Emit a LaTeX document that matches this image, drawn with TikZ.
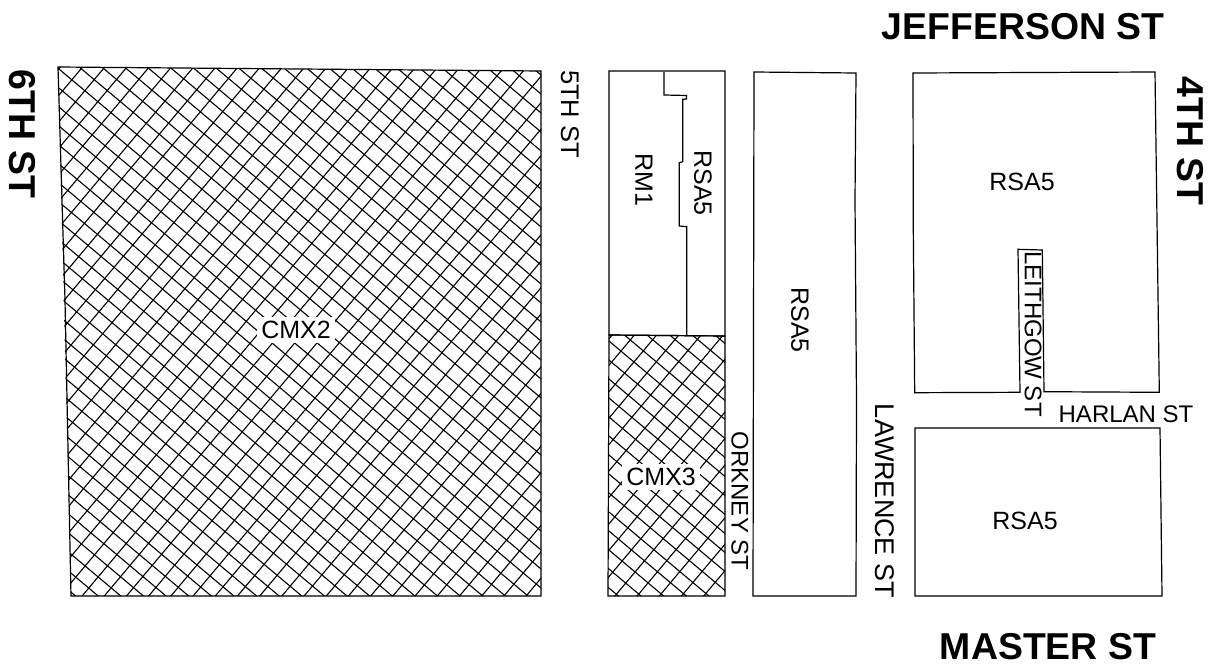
\documentclass[tikz,border=0pt]{standalone}
\usepackage{fontspec}
\setmainfont{Liberation Sans}
\usepackage{tikz}
\begin{document}
\begin{tikzpicture}[
  x=1pt, y=-1pt,
  lot/.style={draw, line width=1.2pt, line join=miter},
  hatchline/.style={draw, line width=1.1pt},
  zonelabel/.style={font=\fontsize{25}{30}\selectfont, inner sep=1pt},
  zonefill/.style={zonelabel, fill=white, inner sep=4pt},
  streetlabel/.style={font=\fontsize{24}{30}\selectfont, inner sep=0pt},
  mainstreet/.style={font=\fontsize{37.4}{44}\selectfont\bfseries, inner sep=0pt}
]
  \useasboundingbox (0,0) rectangle (1212,666);

  % Hatching
  \begin{scope}
    \clip (58,67) -- (541,71) -- (541,596) -- (71,596) -- cycle
          (609,335) -- (725,336) -- (725,596) -- (608,596) -- cycle;
    \foreach \c in {-36,...,32} {
      \draw[hatchline] (0,{\c*19+19.5}) -- (800,{\c*19+19.5+672});
    }
    \foreach \c in {0,...,62} {
      \draw[hatchline] ({\c*22.2-16.5},0) -- ({\c*22.2-16.5-605},720);
    }
  \end{scope}

  % Left block
  \draw[lot] (58,67) -- (300,69) -- (541,71) -- (541,596) -- (71,596) -- (65,300) -- cycle;

  % Orkney block
  \draw[lot] (609,71) -- (725,71) -- (725,336) -- (609,335) -- cycle;
  \draw[lot] (609,335) -- (725,336) -- (725,596) -- (608,596) -- cycle;
  \draw[lot] (664,72) -- (664,95) -- (686.5,95.5) -- (686.5,99) -- (682.7,99.3)
    -- (682.7,161.7) -- (679.3,162.7) -- (679.3,226) -- (686.7,226.7) -- (686.7,335);

  % Middle block
  \draw[lot] (754,72) -- (856,73) -- (855,200) -- (856.5,400) -- (856,596) -- (753,596) -- cycle;

  % Right blocks
  \draw[lot] (913,73) -- (1155,72) -- (1159.3,392.3) -- (1044,391.7) -- (1042.3,250)
    -- (1018,249.3) -- (1020,392.3) -- (914.7,392.7) -- (913.3,230) -- cycle;
  \draw[lot] (915,428) -- (1160,428) -- (1162,596) -- (915,596) -- cycle;

  % Zones
  \node[zonefill] (cmxtwo) at (296,330) {CMX2};
  \node[zonefill] (cmxthree) at (661,477) {CMX3};
  \node[zonelabel, rotate=-90] (rmone) at (644,180) {RM1};
  \node[zonelabel, rotate=-90] (rsaa) at (703,183) {RSA5};
  \node[zonelabel, rotate=-90] (rsab) at (800,320) {RSA5};
  \node[zonelabel] (rsac) at (1022,182) {RSA5};
  \node[zonelabel] (rsad) at (1025,521) {RSA5};

  % Streets
  \node[streetlabel, rotate=-90, font=\fontsize{25.5}{30}\selectfont] (fifth) at (570,114) {5TH ST};
  \node[streetlabel, rotate=-90] (orkney) at (740,501) {ORKNEY ST};
  \node[streetlabel, rotate=-90, font=\fontsize{27}{30}\selectfont] (lawrence) at (885,501) {LAWRENCE ST};
  \node[streetlabel, rotate=-90] (leithgow) at (1033,334) {LEITHGOW ST};
  \node[streetlabel] (harlan) at (1126,414) {HARLAN ST};
  \node[mainstreet] (jefferson) at (1023,27) {JEFFERSON ST};
  \node[mainstreet] (master) at (1048,647) {MASTER ST};
  \node[mainstreet, rotate=-90] (sixth) at (22,134) {6TH ST};
  \node[mainstreet, rotate=-90] (fourth) at (1190,141) {4TH ST};
\end{tikzpicture}
\end{document}
